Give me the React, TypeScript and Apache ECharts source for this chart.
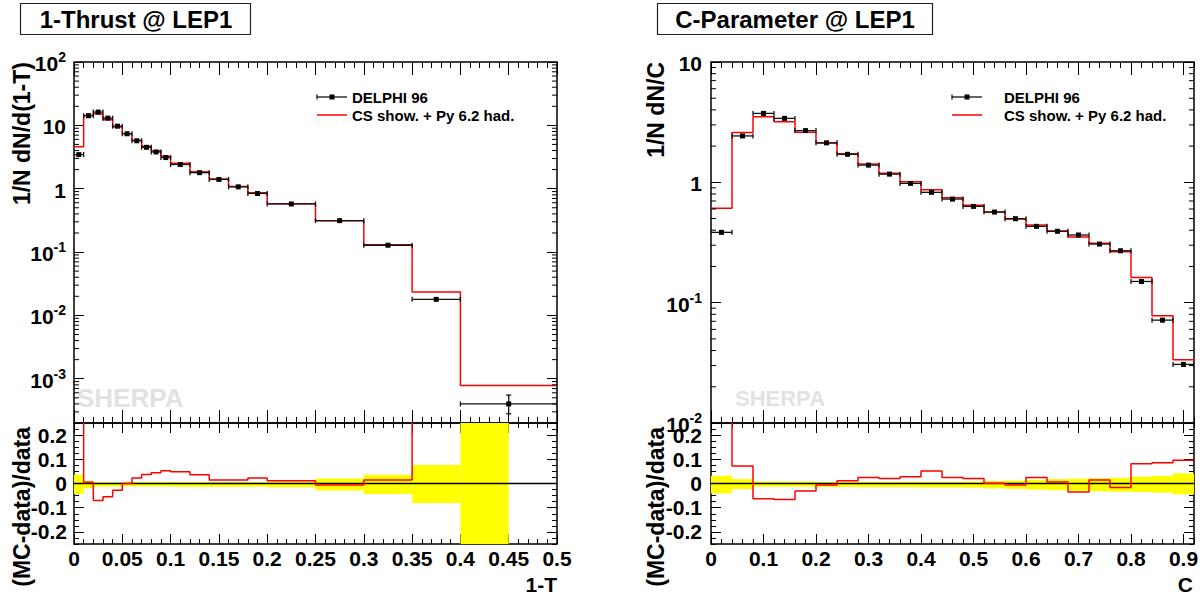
import React, { useEffect, useRef } from "react";
import * as echarts from "echarts";

// ---------- 1-Thrust ----------
const thrustEdges = [0, 0.01, 0.02, 0.03, 0.04, 0.05, 0.06, 0.07, 0.08, 0.09, 0.1, 0.12, 0.14, 0.16, 0.18, 0.2, 0.25, 0.3, 0.35, 0.4, 0.5];
const thrustData = [3.45, 14.2, 16.2, 13.0, 9.7, 7.4, 5.7, 4.5, 3.8, 3.1, 2.41, 1.79, 1.4, 1.07, 0.843, 0.574, 0.313, 0.128, 0.0179, 0.0004];
const thrustMC = [4.6, 14.3, 15.1, 12.3, 9.43, 7.4, 5.83, 4.67, 3.97, 3.26, 2.53, 1.85, 1.42, 1.085, 0.862, 0.58, 0.311, 0.13, 0.0233, 0.00078];
const thrustRatio = [0.33, 0.005, -0.07, -0.055, -0.028, 0.0, 0.023, 0.037, 0.044, 0.053, 0.049, 0.036, 0.014, 0.014, 0.023, 0.011, -0.006, 0.014, 0.3, 0.95];
const thrustErrUp = [0.036, 0.011, 0.005, 0.005, 0.005, 0.006, 0.006, 0.006, 0.006, 0.006, 0.006, 0.006, 0.006, 0.006, 0.006, 0.008, 0.021, 0.036, 0.076, 0.38];
const thrustErrDown = [0.043, 0.02, 0.012, 0.012, 0.012, 0.012, 0.012, 0.012, 0.012, 0.012, 0.013, 0.013, 0.013, 0.013, 0.013, 0.015, 0.029, 0.043, 0.081, 0.3];
const thrustBandEdges = [0, 0.01, 0.02, 0.03, 0.04, 0.05, 0.06, 0.07, 0.08, 0.09, 0.1, 0.12, 0.14, 0.16, 0.18, 0.2, 0.25, 0.3, 0.35, 0.4, 0.45];
const thrustXTicks = [0, 0.05, 0.1, 0.15, 0.2, 0.25, 0.3, 0.35, 0.4, 0.45, 0.5];

// ---------- C-Parameter ----------
const cEdges = [0, 0.04, 0.08, 0.12, 0.16, 0.2, 0.24, 0.28, 0.32, 0.36, 0.4, 0.44, 0.48, 0.52, 0.56, 0.6, 0.64, 0.68, 0.72, 0.76, 0.8, 0.84, 0.88, 0.92];
const cData = [0.384, 2.43, 3.74, 3.4, 2.69, 2.13, 1.71, 1.39, 1.17, 0.98, 0.826, 0.726, 0.631, 0.566, 0.499, 0.431, 0.392, 0.365, 0.307, 0.27, 0.15, 0.0716, 0.0307];
const cMC = [0.61, 2.6, 3.5, 3.18, 2.61, 2.12, 1.73, 1.42, 1.19, 1.01, 0.869, 0.744, 0.644, 0.567, 0.496, 0.442, 0.394, 0.352, 0.311, 0.265, 0.162, 0.0778, 0.0336];
const cRatio = [0.59, 0.072, -0.063, -0.066, -0.031, -0.006, 0.011, 0.025, 0.021, 0.028, 0.052, 0.025, 0.021, 0.001, -0.006, 0.025, 0.006, -0.035, 0.014, -0.017, 0.082, 0.086, 0.096];
const cErrUp = [0.032, 0.018, 0.008, 0.008, 0.008, 0.007, 0.007, 0.007, 0.007, 0.007, 0.007, 0.007, 0.008, 0.01, 0.012, 0.015, 0.018, 0.02, 0.022, 0.024, 0.028, 0.032, 0.042];
const cErrDown = [0.041, 0.023, 0.013, 0.013, 0.013, 0.014, 0.014, 0.015, 0.015, 0.015, 0.016, 0.016, 0.017, 0.02, 0.022, 0.025, 0.028, 0.03, 0.032, 0.034, 0.035, 0.038, 0.045];
const cXTicks = [0, 0.1, 0.2, 0.3, 0.4, 0.5, 0.6, 0.7, 0.8, 0.9];

const ratioYTicks = [-0.2, -0.1, 0, 0.1, 0.2];

const FONT = "'Liberation Sans', Arial, Helvetica, sans-serif";
const BLACK = "#000";
const RED = "#ff0000";

function range(min: number, max: number, step: number) {
  const out: number[] = [];
  const n = Math.round((max - min) / step);
  for (let i = 0; i <= n; i++) out.push(+(min + i * step).toFixed(6));
  return out;
}

function logMinorTicks(min: number, max: number) {
  const out: number[] = [];
  for (let e = -6; e <= 3; e++) {
    for (let m = 2; m <= 9; m++) {
      const v = m * Math.pow(10, e);
      if (v > min && v < max) out.push(v);
    }
  }
  return out;
}

const tickLine = { color: BLACK, width: 1 };
const labelStyle = { color: BLACK, fontFamily: FONT, fontWeight: "bold" as const, fontSize: 21 };
const noLine = { show: false, onZero: false };

function linX(grid: number, min: number, max: number, majors: number[], minors: number[], majLen: number, minLen: number, labels: boolean) {
  const base = { type: "value", gridIndex: grid, min, max, axisLine: noLine, splitLine: { show: false } };
  const mk = (pos: string, vals: number[], len: number, lab: boolean) => ({
    ...base,
    position: pos,
    axisTick: { show: true, inside: true, length: len, customValues: vals, lineStyle: tickLine },
    axisLabel: lab
      ? { show: true, customValues: vals, margin: 4, ...labelStyle, formatter: (v: number) => String(+v.toFixed(3)) }
      : { show: false },
  });
  return [mk("bottom", majors, majLen, labels), mk("top", majors, majLen, false), mk("bottom", minors, minLen, false), mk("top", minors, minLen, false)];
}

function linY(grid: number, min: number, max: number, majors: number[], minors: number[], majLen: number, minLen: number, margin: number) {
  const base = { type: "value", gridIndex: grid, min, max, axisLine: noLine, splitLine: { show: false } };
  const mk = (pos: string, vals: number[], len: number, lab: boolean) => ({
    ...base,
    position: pos,
    axisTick: { show: true, inside: true, length: len, customValues: vals, lineStyle: tickLine },
    axisLabel: lab
      ? { show: true, customValues: vals, margin, ...labelStyle, formatter: (v: number) => String(+v.toFixed(3)) }
      : { show: false },
  });
  return [mk("left", majors, majLen, true), mk("right", majors, majLen, false), mk("left", minors, minLen, false), mk("right", minors, minLen, false)];
}

function logFmt(v: number) {
  const e = Math.log10(v);
  const r = Math.round(e);
  if (Math.abs(e - r) > 1e-6) return "";
  if (r === 0) return "{b|1}";
  if (r === 1) return "{b|10}";
  return `{b|10}{s|${r}}`;
}

function logY(grid: number, min: number, max: number, margin: number) {
  const base = {
    type: "log",
    logBase: 10,
    gridIndex: grid,
    min,
    max,
    axisLine: noLine,
    splitLine: { show: false },
    minorTick: { show: false },
    axisTick: { show: true, inside: true, length: 10, lineStyle: tickLine },
  };
  return [
    {
      ...base,
      position: "left",
      axisLabel: {
        show: true,
        margin,
        formatter: logFmt,
        rich: {
          b: { ...labelStyle, fontSize: 21, lineHeight: 24, verticalAlign: "bottom" },
          s: { ...labelStyle, fontSize: 14, lineHeight: 14, verticalAlign: "top" },
        },
      },
    },
    { ...base, position: "right", axisLabel: { show: false } },
  ];
}

function stepData(edges: number[], vals: number[]) {
  return edges.map((e, i) => [e, vals[Math.min(i, vals.length - 1)]]);
}

function errorBarSeries(xi: number, yi: number, edges: number[], vals: number[], up: number[], down: number[]) {
  const data = vals.map((v, i) => [(edges[i] + edges[i + 1]) / 2, v, edges[i], edges[i + 1], v * (1 - down[i]), v * (1 + up[i])]);
  return {
    type: "custom",
    xAxisIndex: xi,
    yAxisIndex: yi,
    clip: true,
    z: 5,
    data,
    renderItem: (_p: any, api: any) => {
      const c = api.coord([api.value(0), api.value(1)]);
      const l = api.coord([api.value(2), api.value(1)]);
      const r = api.coord([api.value(3), api.value(1)]);
      const b = api.coord([api.value(0), api.value(4)]);
      const t = api.coord([api.value(0), api.value(5)]);
      const st = { stroke: "#111", lineWidth: 1.3 };
      const children: any[] = [
        { type: "line", shape: { x1: l[0], y1: l[1], x2: r[0], y2: r[1] }, style: st },
        { type: "line", shape: { x1: l[0], y1: l[1] - 2.5, x2: l[0], y2: l[1] + 2.5 }, style: st },
        { type: "line", shape: { x1: r[0], y1: r[1] - 2.5, x2: r[0], y2: r[1] + 2.5 }, style: st },
        { type: "rect", shape: { x: c[0] - 2.5, y: c[1] - 2.5, width: 5, height: 5 }, style: { fill: BLACK } },
      ];
      if (Math.abs(t[1] - b[1]) > 6) {
        children.push({ type: "line", shape: { x1: c[0], y1: t[1], x2: c[0], y2: b[1] }, style: st });
        children.push({ type: "line", shape: { x1: c[0] - 2.5, y1: t[1], x2: c[0] + 2.5, y2: t[1] }, style: st });
        children.push({ type: "line", shape: { x1: c[0] - 2.5, y1: b[1], x2: c[0] + 2.5, y2: b[1] }, style: st });
      }
      return { type: "group", children };
    },
  };
}

function bandSeries(xi: number, yi: number, edges: number[], up: number[], down: number[]) {
  const data = up.map((u, i) => [edges[i], edges[i + 1], -down[i], u]);
  return {
    type: "custom",
    xAxisIndex: xi,
    yAxisIndex: yi,
    clip: true,
    z: 1,
    data,
    renderItem: (_p: any, api: any) => {
      const a = api.coord([api.value(0), api.value(3)]);
      const b = api.coord([api.value(1), api.value(2)]);
      return {
        type: "rect",
        shape: { x: a[0], y: a[1], width: b[0] - a[0], height: b[1] - a[1] },
        style: { fill: "#ffff00" },
      };
    },
  };
}

function logMinorSeries(xi: number, yi: number, xmin: number, xmax: number, ymin: number, ymax: number) {
  return {
    type: "custom",
    xAxisIndex: xi,
    yAxisIndex: yi,
    silent: true,
    z: 6,
    data: logMinorTicks(ymin, ymax).map((v) => [xmin, v]),
    renderItem: (_p: any, api: any) => {
      const v = api.value(1);
      const pl = api.coord([xmin, v]);
      const pr = api.coord([xmax, v]);
      const st = { stroke: BLACK, lineWidth: 1 };
      return {
        type: "group",
        children: [
          { type: "line", shape: { x1: pl[0], y1: pl[1], x2: pl[0] + 5, y2: pl[1] }, style: st },
          { type: "line", shape: { x1: pr[0] - 5, y1: pr[1], x2: pr[0], y2: pr[1] }, style: st },
        ],
      };
    },
  };
}

function lineSeries(xi: number, yi: number, data: number[][], color: string, width: number, step: boolean, z = 3) {
  return {
    type: "line",
    xAxisIndex: xi,
    yAxisIndex: yi,
    data,
    step: step ? "end" : false,
    symbol: "none",
    clip: true,
    z,
    lineStyle: { color, width },
  };
}

function textEl(text: string, x: number, y: number, opts: any = {}) {
  return {
    type: "text",
    x,
    y,
    rotation: opts.rotation || 0,
    z: opts.z ?? 10,
    style: {
      text,
      fill: opts.fill || BLACK,
      font: `bold ${opts.size || 23}px ${FONT}`,
      align: opts.align || "left",
      verticalAlign: opts.va || "middle",
    },
  };
}

function legend(x0: number, x1: number, tx: number, y1: number, y2: number) {
  const mid = (x0 + x1) / 2;
  return [
    { type: "line", shape: { x1: x0, y1: y1, x2: x1, y2: y1 }, style: { stroke: "#111", lineWidth: 1.3 }, z: 10 },
    { type: "line", shape: { x1: x0, y1: y1 - 2.5, x2: x0, y2: y1 + 2.5 }, style: { stroke: "#111", lineWidth: 1.3 }, z: 10 },
    { type: "rect", shape: { x: mid - 2.5, y: y1 - 2.5, width: 5, height: 5 }, style: { fill: BLACK }, z: 10 },
    textEl("DELPHI 96", tx, y1, { size: 15 }),
    { type: "line", shape: { x1: x0, y1: y2, x2: x1, y2: y2 }, style: { stroke: RED, lineWidth: 1.5 }, z: 10 },
    textEl("CS show. + Py 6.2 had.", tx, y2, { size: 15 }),
  ];
}

export default function App() {
  const ref = useRef<HTMLDivElement>(null);
  useEffect(() => {
    if (!ref.current) return;
    const chart = echarts.init(ref.current, null, { renderer: "svg" });

    const LT = { left: 74, top: 62, width: 483, height: 361 };
    const LR = { left: 74, top: 423, width: 483, height: 121 };
    const RT = { left: 711, top: 62, width: 483, height: 361 };
    const RR = { left: 711, top: 423, width: 483, height: 121 };
    const gridStyle = { show: true, borderColor: BLACK, borderWidth: 1.5, backgroundColor: "transparent" };

    const xAxis = [
      ...linX(0, 0, 0.5, thrustXTicks, range(0, 0.5, 0.01), 13, 6, false),
      ...linX(1, 0, 0.5, thrustXTicks, range(0, 0.5, 0.01), 10, 5, true),
      ...linX(2, 0, 0.92, cXTicks, range(0, 0.92, 0.02), 13, 6, false),
      ...linX(3, 0, 0.92, cXTicks, range(0, 0.92, 0.02), 10, 5, true),
    ];
    const yAxis = [
      ...logY(0, 2e-4, 100, 8),
      ...linY(1, -0.25, 0.25, ratioYTicks, range(-0.25, 0.25, 0.025), 10, 5, 7),
      ...logY(2, 0.01, 10, 9),
      ...linY(3, -0.25, 0.25, ratioYTicks, range(-0.25, 0.25, 0.025), 10, 5, 9),
    ];
    // x axis index per grid: 0, 4, 8, 12 ; y axis index: 0, 2, 6, 8
    const series: any[] = [
      // left top
      logMinorSeries(0, 0, 0, 0.5, 2e-4, 100),
      lineSeries(0, 0, stepData(thrustEdges, thrustMC), RED, 1.5, true),
      errorBarSeries(0, 0, thrustEdges, thrustData, thrustErrUp, thrustErrDown),
      // left ratio
      bandSeries(4, 2, thrustBandEdges, thrustErrUp, thrustErrDown),
      lineSeries(4, 2, [[0, 0], [0.5, 0]], BLACK, 1.5, false, 3),
      lineSeries(4, 2, stepData(thrustEdges, thrustRatio), RED, 1.5, true, 4),
      // right top
      logMinorSeries(8, 6, 0, 0.92, 0.01, 10),
      lineSeries(8, 6, stepData(cEdges, cMC), RED, 1.5, true),
      errorBarSeries(8, 6, cEdges, cData, cErrUp, cErrDown),
      // right ratio
      bandSeries(12, 8, cEdges, cErrUp, cErrDown),
      lineSeries(12, 8, [[0, 0], [0.92, 0]], BLACK, 1.5, false, 3),
      lineSeries(12, 8, stepData(cEdges, cRatio), RED, 1.5, true, 4),
    ];

    const graphic: any[] = [
      // title boxes
      { type: "rect", shape: { x: 20.5, y: 3.5, width: 230, height: 31 }, style: { fill: "#fff", stroke: "#222", lineWidth: 1.2 }, z: 9 },
      textEl("1-Thrust @ LEP1", 136, 19.5, { size: 24, align: "center" }),
      { type: "rect", shape: { x: 657.5, y: 3.5, width: 275, height: 31 }, style: { fill: "#fff", stroke: "#222", lineWidth: 1.2 }, z: 9 },
      textEl("C-Parameter @ LEP1", 795, 19.5, { size: 24, align: "center" }),
      // axis titles
      textEl("1/N dN/d(1-T)", 22, 62, { rotation: Math.PI / 2, align: "right" }),
      textEl("(MC-data)/data", 22, 427, { rotation: Math.PI / 2, align: "right" }),
      textEl("1/N dN/C", 656, 62, { rotation: Math.PI / 2, align: "right" }),
      textEl("(MC-data)/data", 656, 427, { rotation: Math.PI / 2, align: "right" }),
      textEl("1-T", 557, 584, { size: 21, align: "right" }),
      textEl("C", 1193, 584, { size: 21, align: "right" }),
      // watermark
      textEl("SHERPA", 77, 398, { size: 26, fill: "#e2e2e2", z: 0 }),
      textEl("SHERPA", 735, 398, { size: 22, fill: "#e2e2e2", z: 0 }),
      ...legend(317, 347, 352, 97, 115),
      ...legend(952, 982, 1004, 97, 115),
    ];

    chart.setOption({
      animation: false,
      backgroundColor: "#fff",
      grid: [LT, LR, RT, RR].map((g) => ({ ...g, ...gridStyle })),
      xAxis,
      yAxis,
      series,
      graphic,
    } as any);

    return () => chart.dispose();
  }, []);

  return <div ref={ref} style={{ position: "fixed", left: 0, top: 0, width: 1204, height: 595 }} />;
}
